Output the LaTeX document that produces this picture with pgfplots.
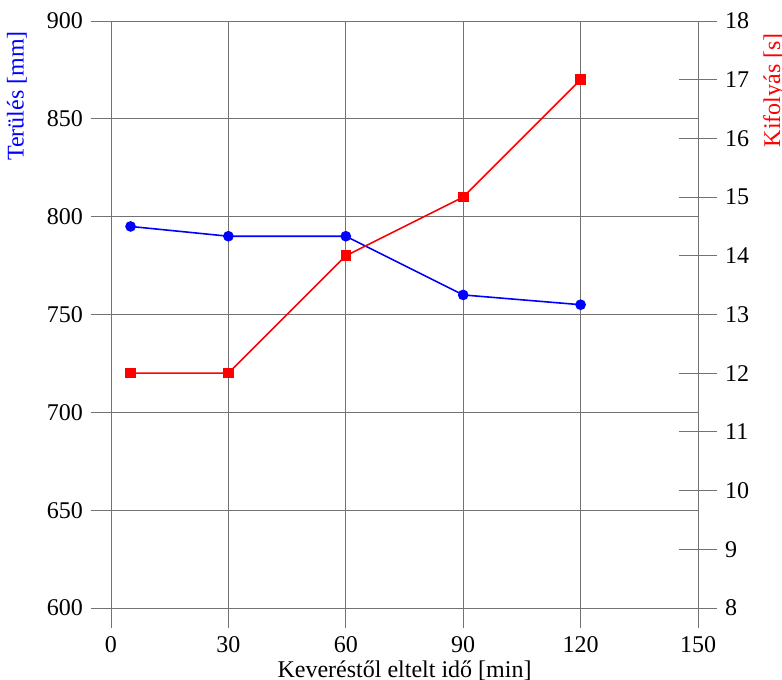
\documentclass[border=0pt]{standalone}
\usepackage{pgfplots}
\pgfplotsset{compat=1.18}
\usepackage{fontspec}
\setmainfont{Liberation Serif}
\begin{document}
\fontsize{24}{28}\selectfont
\begin{tikzpicture}
\pgfplotsset{
  every axis/.append style={
    scale only axis, width=587pt, height=587pt,
    xmin=0, xmax=150,
    /pgf/number format/assume math mode=true,
    tick label style={font=\fontsize{24}{28}\selectfont, text=black},
    label style={font=\fontsize{24}{28}\selectfont},
    axis line style={draw=gray!90!black, line width=0.8pt},
    tick style={draw=gray!90!black, line width=0.8pt},
    major grid style={draw=gray!90!black, line width=0.8pt},
  }
}
% Grid and frame
\begin{axis}[
  ymin=600, ymax=900, ytick={600,650,...,900},
  xtick={0,30,...,150},
  grid=major, major tick length=0pt,
  xticklabels={}, yticklabels={},
]
\end{axis}
% Left axis: spread (mm)
\begin{axis}[
  ymin=600, ymax=900, ytick={600,650,...,900},
  xtick={0,30,...,150},
  axis x line*=bottom, axis y line*=left,
  tick align=outside,
  major tick length=20pt,
  xlabel={Keveréstől eltelt idő [min]},
  ylabel={Terülés [mm]},
  ylabel style={text=blue, at={(rel axis cs:0,1)}, anchor=south east, yshift=76pt, xshift=-2pt},
  xlabel style={at={(rel axis cs:0.5,0)}, anchor=north, yshift=-45pt},
]
\addplot[blue, line width=1.6pt, mark=*, mark size=4.5pt]
  coordinates {(5,795) (30,790) (60,790) (90,760) (120,755)};
\end{axis}
% Right axis: flow time (s)
\begin{axis}[
  ymin=8, ymax=18, ytick={8,9,...,18},
  axis x line=none,
  axis y line*=right,
  ytick align=center, major tick length=38pt,
  ylabel={Kifolyás [s]},
  ylabel style={text=red, at={(rel axis cs:1,1)}, anchor=north east, yshift=-57pt, xshift=-4pt},
]
\addplot[red, line width=1.6pt, mark=square*, mark size=4.5pt]
  coordinates {(5,12) (30,12) (60,14) (90,15) (120,17)};
\end{axis}
\pgfresetboundingbox
\path[use as bounding box] (-111pt,-72pt) rectangle (671pt,608pt);
\end{tikzpicture}
\end{document}
